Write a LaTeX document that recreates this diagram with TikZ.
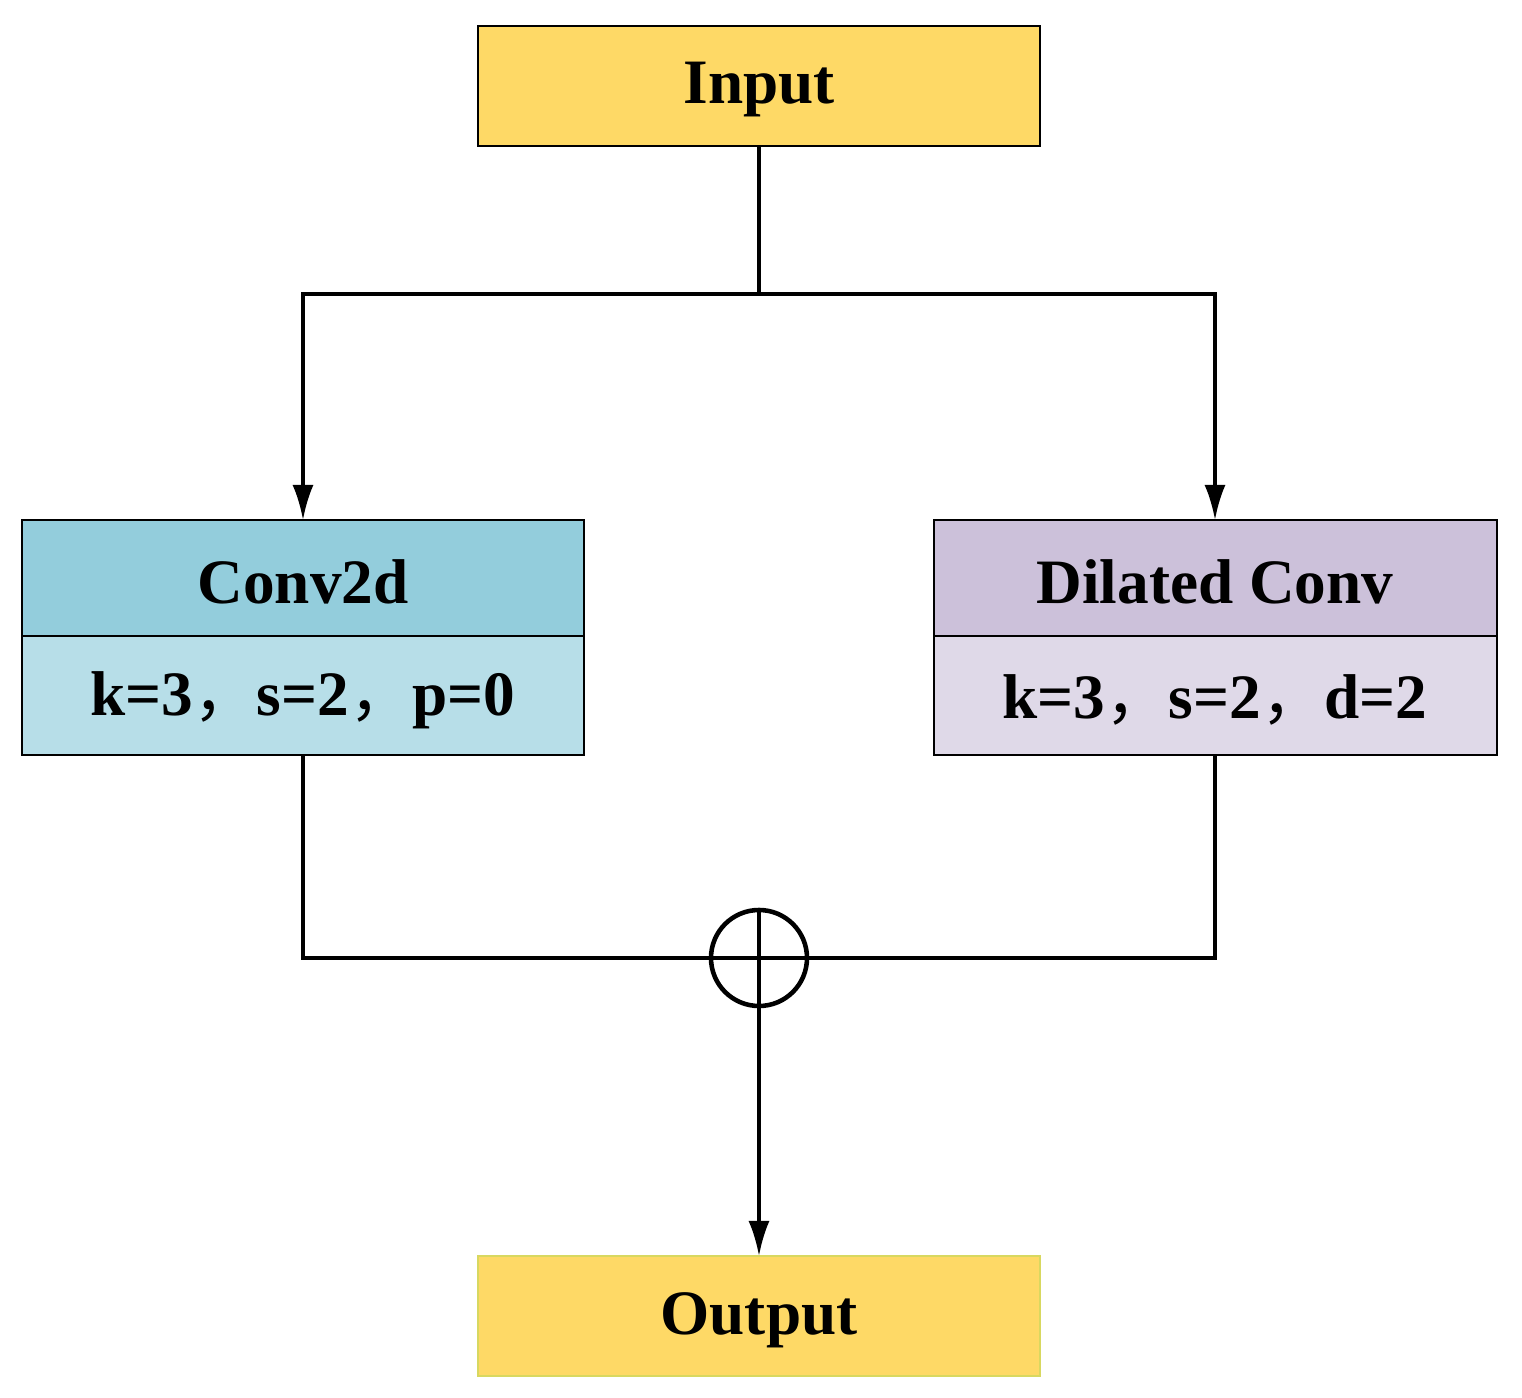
\documentclass[tikz,border=0pt]{standalone}
\usepackage{fontspec}
\setmainfont{Liberation Serif}
\newfontfamily\cjk{Noto Sans CJK SC}
\usetikzlibrary{arrows.meta}
\definecolor{yel}{HTML}{FED966}
\definecolor{yelb}{HTML}{D8D860}
\definecolor{bluetop}{HTML}{93CDDC}
\definecolor{bluebot}{HTML}{B7DEE8}
\definecolor{purtop}{HTML}{CCC1DA}
\definecolor{purbot}{HTML}{DFD9E8}
\newcommand{\cm}{{\cjk\mdseries ，}}
\begin{document}
\begin{tikzpicture}[x=0.02cm,y=-0.02cm,
  lbl/.style={font=\fontsize{36}{40}\selectfont\bfseries},
  ln/.style={line width=2pt},
  arr/.style={ln,-{Latex[length=20pt,width=12pt]}}]
\useasboundingbox (0,0) rectangle (1522,1398);
% boxes
\draw[fill=yel,line width=1pt] (478,26) rectangle (1040,146);
\node[lbl] (in) at (759,90) {Input};
\coordinate (inb) at (759,146);
\draw[fill=yel,draw=yelb,line width=1pt] (478,1256) rectangle (1040,1376);
\node[lbl] (out) at (759,1320) {Output};
\coordinate (outt) at (759,1256);
\draw[fill=bluetop,line width=1pt] (22,520) rectangle (584,636);
\draw[fill=bluebot,line width=1pt] (22,636) rectangle (584,755);
\node[lbl] (c1) at (303,582) {Conv2d};
\node[lbl] (c2) at (303,700) {k=3\cm s=2\cm p=0};
\draw[fill=purtop,line width=1pt] (934,520) rectangle (1497,636);
\draw[fill=purbot,line width=1pt] (934,636) rectangle (1497,755);
\node[lbl] (d1) at (1215,582) {Dilated Conv};
\node[lbl] (d2) at (1215,700) {k=3\cm s=2\cm d=2};
\coordinate (ct) at (303,520); \coordinate (cb) at (303,755);
\coordinate (dt) at (1215,520); \coordinate (db) at (1215,755);
\coordinate (sp) at (759,294);
% connectors
\draw[ln] (inb) -- (sp);
\draw[arr] (sp) -| (ct);
\draw[arr] (sp) -| (dt);
\node[circle,draw,line width=2.6pt,minimum size=96*0.02cm,inner sep=0] (plus) at (759,958) {};
\draw[line width=2.6pt] (plus.north) -- (plus.south) (plus.west) -- (plus.east);
\draw[ln] (cb) |- (plus.west);
\draw[ln] (db) |- (plus.east);
\draw[arr] (plus.south) -- (outt);
\end{tikzpicture}
\end{document}
